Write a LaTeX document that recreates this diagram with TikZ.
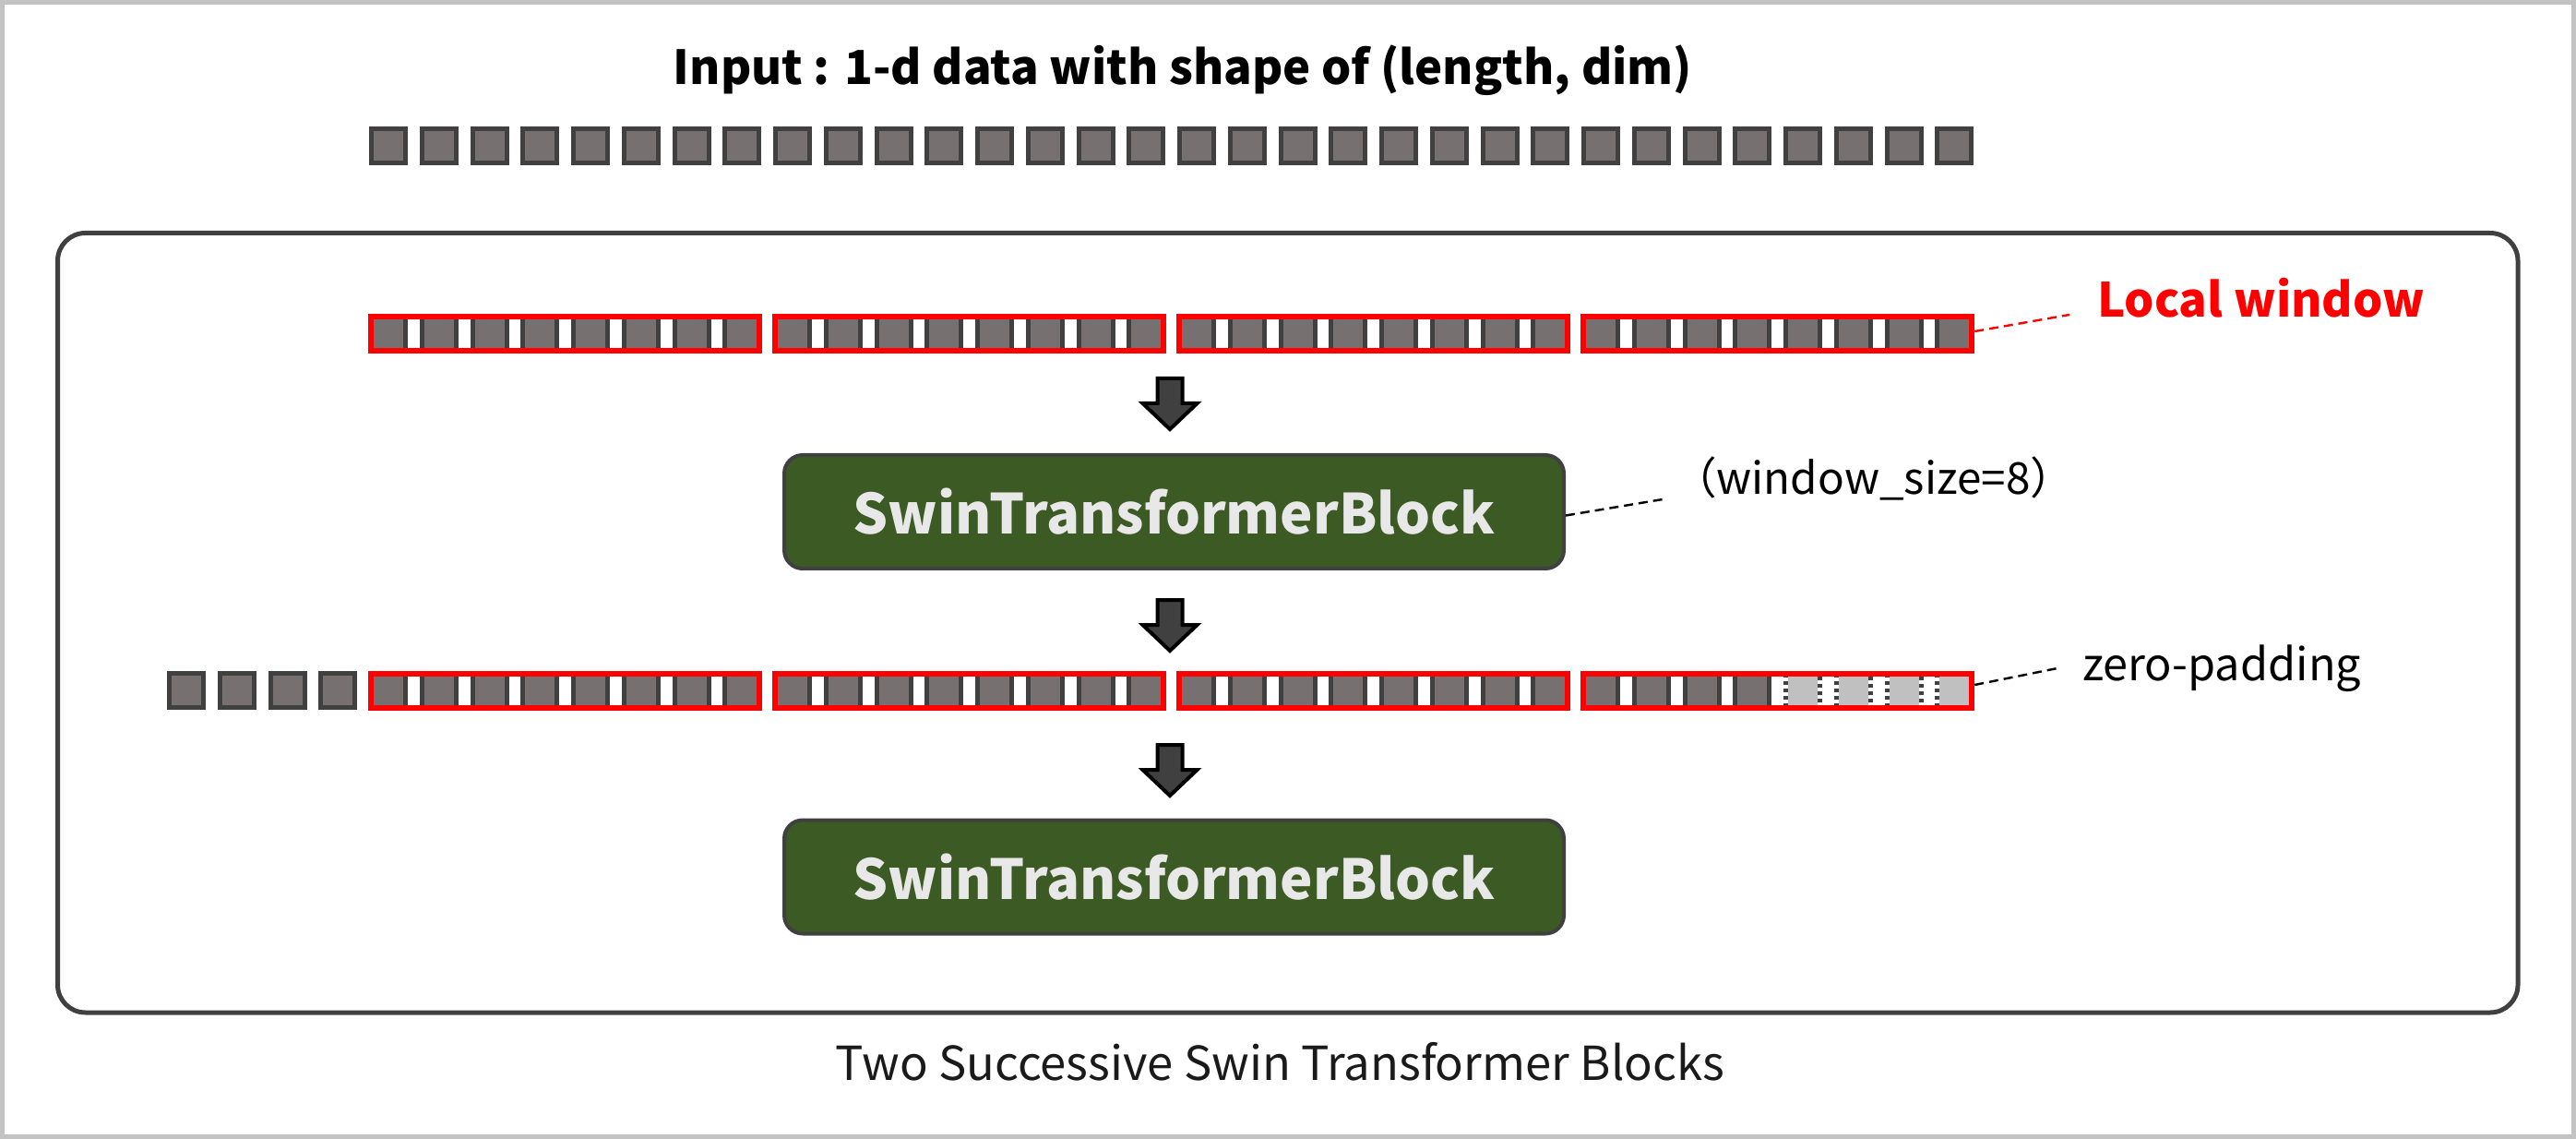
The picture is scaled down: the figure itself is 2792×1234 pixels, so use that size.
\documentclass[tikz,border=0pt]{standalone}
\usepackage{fontspec}
\setmainfont{Noto Sans CJK JP}
\usepackage{graphicx}
\usetikzlibrary{calc}
\definecolor{sqfill}{HTML}{767170}
\definecolor{dark}{HTML}{404040}
\definecolor{padfill}{HTML}{C0C0C0}
\definecolor{bgreen}{HTML}{3C5A24}
\definecolor{btext}{HTML}{E8E8E8}
\definecolor{imgborder}{HTML}{C3C3C3}
\definecolor{captext}{HTML}{1A1A1A}
\begin{document}
\begin{tikzpicture}[x=0.5pt,y=-0.5pt,
  sq/.style={fill=sqfill,draw=dark,line width=2.5pt},
  padsq/.style={draw=dark,line width=2.5pt,dash pattern=on 2pt off 2pt},
  win/.style={draw=red,line width=3pt,minimum width=210.625pt,minimum height=18.5pt,inner sep=0pt},
  block/.style={draw=dark,fill=bgreen,line width=2pt,rounded corners=10pt,minimum width=422.5pt,minimum height=61.5pt,inner sep=0pt,text=btext},
  blockarrow/.style={fill=dark,draw=black,line width=2pt,line join=miter},
  txt/.style={inner sep=0pt,outer sep=0pt},
  reddash/.style={draw=red,line width=1.2pt,dash pattern=on 5pt off 3pt},
  blackdash/.style={draw=black,line width=1.2pt,dash pattern=on 5pt off 3pt}]
\useasboundingbox (0,0) rectangle (2792,1234);
% image border
\draw[imgborder,line width=2.5pt] (2.5,2.5) rectangle (2789.5,1231.5);
% title
\node[txt,anchor=base] (title) at (1282,92) {\resizebox{552pt}{!}{\bfseries Input : 1-d data with shape of (length, dim)}};
% top row of squares
\foreach \i in {0,...,31}{
  \pgfmathsetmacro\x{400+\i*54.75}
  \draw[sq] (\x+2.5,139.5) rectangle (\x+39.5,176.5);
}
% outer frame
\draw[dark,line width=2.5pt,rounded corners=15pt] (62.5,252.5) rectangle (2729,1097);
% row 1 squares
\foreach \i in {0,...,31}{
  \pgfmathsetmacro\x{400+\i*54.75}
  \draw[sq] (\x+2.5,343.5) rectangle (\x+39.5,380.5);
}
\foreach \k in {1,...,4}{
  \node[win] (w1\k) at ({400+(\k-1)*438+212.625},362) {};
}
% row 2 squares
\foreach \i in {-4,...,27}{
  \pgfmathsetmacro\x{400+\i*54.75}
  \draw[sq] (\x+2.5,729.5) rectangle (\x+39.5,766.5);
}
\foreach \i in {28,...,31}{
  \pgfmathsetmacro\x{400+\i*54.75}
  \fill[padfill] (\x+5,732) rectangle (\x+37,764);
  \draw[padsq] (\x+2.5,729.5) rectangle (\x+39.5,766.5);
}
\foreach \k in {1,...,4}{
  \node[win] (w2\k) at ({400+(\k-1)*438+212.625},748) {};
}
% arrows
\foreach \ty in {410,650,807}{
  \draw[blockarrow] (1268-13.5,\ty) -- (1268+13.5,\ty) -- (1268+13.5,\ty+27) -- (1268+29.5,\ty+27)
     -- (1268,\ty+55) -- (1268-29.5,\ty+27) -- (1268-13.5,\ty+27) -- cycle;
}
% blocks
\node[block] (b1) at (1272.5,554.5) {\resizebox{348pt}{!}{\bfseries SwinTransformerBlock}};
\node[block] (b2) at (1272.5,950) {\resizebox{348pt}{!}{\bfseries SwinTransformerBlock}};
% labels
\node[txt,anchor=base west,text=red] (lw) at (2273,344) {\resizebox{177.5pt}{!}{\bfseries Local window}};
\node[txt,anchor=base west] (ws) at (1813,536) {\resizebox{217.5pt}{!}{（window\_size=8）}};
\node[txt,anchor=base west] (zp) at (2257,737) {\resizebox{151pt}{!}{zero-padding}};
\node[txt,anchor=base,text=captext] (cap) at (1387.5,1170) {\resizebox{481.5pt}{!}{Two Successive Swin Transformer Blocks}};
% dashed connectors
\draw[reddash] ([yshift=1.5pt]w14.east) -- ([xshift=-15pt,yshift=1.5pt]lw.base west);
\draw[blackdash] ([yshift=-2pt]b1.east) -- ([xshift=-5.5pt,yshift=-2.5pt]ws.base west);
\draw[blackdash] ([yshift=3pt]w24.east) -- ([xshift=-13.5pt,yshift=6.5pt]zp.base west);
\end{tikzpicture}
\end{document}
